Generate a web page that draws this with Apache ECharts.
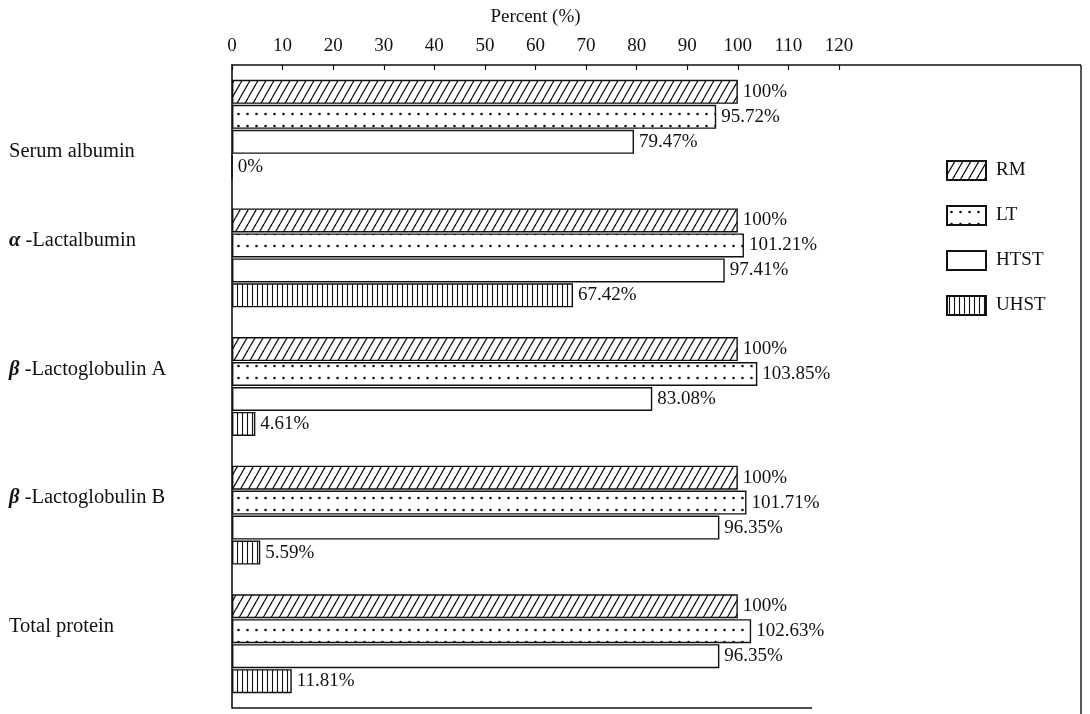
<!DOCTYPE html>
<html>
<head>
<meta charset="utf-8">
<script src="https://cdn.jsdelivr.net/npm/echarts@6/dist/echarts.min.js"></script>
<style>
html,body{margin:0;padding:0;background:#fff;}
#c{width:1090px;height:714px;}
</style>
</head>
<body>
<div id="c"></div>
<script>
// ---- data ----
var categories = ['Serum albumin', 'α-Lactalbumin', 'β-Lactoglobulin A', 'β-Lactoglobulin B', 'Total protein'];
var seriesNames = ['RM', 'LT', 'HTST', 'UHST'];
var rmValues   = [100, 100, 100, 100, 100];
var ltValues   = [95.72, 101.21, 103.85, 101.71, 102.63];
var htstValues = [79.47, 97.41, 83.08, 96.35, 96.35];
var uhstValues = [0, 67.42, 4.61, 5.59, 11.81];
var xTicks = [0, 10, 20, 30, 40, 50, 60, 70, 80, 90, 100, 110, 120];

// ---- patterns ----
function makeCanvas(w, h, draw) {
  var c = document.createElement('canvas');
  c.width = w; c.height = h;
  var ctx = c.getContext('2d');
  ctx.fillStyle = '#fff';
  ctx.fillRect(0, 0, w, h);
  draw(ctx, w, h);
  return c;
}
var hatch = makeCanvas(8, 14, function (ctx, w, h) {
  ctx.strokeStyle = '#111';
  ctx.lineWidth = 1.3;
  for (var k = -1; k <= 1; k++) {
    ctx.beginPath();
    ctx.moveTo(k * w, h);
    ctx.lineTo(k * w + w, 0);
    ctx.stroke();
  }
});
var dots = makeCanvas(9, 12, function (ctx, w, h) {
  ctx.fillStyle = '#111';
  ctx.beginPath();
  ctx.arc(4.5, 6, 1.3, 0, Math.PI * 2);
  ctx.fill();
});
var vlines = makeCanvas(5, 10, function (ctx, w, h) {
  ctx.strokeStyle = '#111';
  ctx.lineWidth = 1.1;
  ctx.beginPath();
  ctx.moveTo(2.5, 0);
  ctx.lineTo(2.5, h);
  ctx.stroke();
});

var FONT = '"Liberation Serif", "DejaVu Serif", serif';
var fills = [
  { image: hatch, repeat: 'repeat' },
  { image: dots, repeat: 'repeat' },
  '#ffffff',
  { image: vlines, repeat: 'repeat' }
];
var valueSets = [rmValues, ltValues, htstValues, uhstValues];

var series = seriesNames.map(function (name, i) {
  return {
    name: name,
    type: 'bar',
    data: valueSets[i],
    barWidth: 24,
    barGap: '4%',
    itemStyle: { color: fills[i], borderColor: '#111', borderWidth: 1.4 },
    label: {
      show: true,
      position: 'right',
      distance: 5,
      color: '#111',
      fontFamily: FONT,
      fontSize: 19,
      formatter: function (p) { return p.value + '%'; }
    },
    emphasis: { disabled: true },
    animation: false
  };
});

var chart = echarts.init(document.getElementById('c'), null, { renderer: 'canvas' });
chart.setOption({
  backgroundColor: '#fff',
  animation: false,
  grid: { left: 232, right: 251, top: 65, bottom: 6, containLabel: false, outerBoundsMode: 'none' },
  legend: {
    orient: 'vertical',
    left: 941,
    top: 155,
    itemWidth: 39,
    itemHeight: 19,
    itemGap: 24,
    icon: 'rect',
    data: seriesNames,
    textStyle: { fontFamily: FONT, fontSize: 19, color: '#111', padding: [0, 0, 0, 5] }
  },
  xAxis: {
    type: 'value',
    position: 'top',
    min: 0,
    max: 120,
    interval: 10,
    name: 'Percent (%)',
    nameLocation: 'middle',
    nameGap: 38,
    nameTextStyle: { fontFamily: FONT, fontSize: 19, color: '#111' },
    axisLine: { show: true, lineStyle: { color: '#111', width: 1.6 } },
    axisTick: { show: true, inside: true, length: 5, lineStyle: { color: '#111', width: 1.2 } },
    axisLabel: {
      margin: 9,
      fontFamily: FONT,
      fontSize: 19,
      color: '#111',
      customValues: xTicks
    },
    splitLine: { show: false }
  },
  yAxis: {
    type: 'category',
    inverse: true,
    data: categories,
    axisLine: { show: true, lineStyle: { color: '#111', width: 1.6 } },
    axisTick: { show: false },
    axisLabel: {
      align: 'left',
      margin: 223,
      color: '#111',
      formatter: function (v, idx) {
        var first = v.charAt(0);
        var greek = (first === 'α' || first === 'β');
        var style = idx === 0 ? 'a' : 'b';
        if (greek) {
          return '{' + style + 'g|' + first + '}{' + style + '| ' + v.slice(1) + '}';
        }
        return '{' + style + '|' + v + '}';
      },
      rich: {
        a: { fontFamily: FONT, fontSize: 20.5, color: '#111', padding: [44, 0, 0, 0] },
        ag: { fontFamily: FONT, fontSize: 20.5, color: '#111', fontStyle: 'italic', fontWeight: 'bold', padding: [44, 0, 0, 0] },
        b: { fontFamily: FONT, fontSize: 20.5, color: '#111', padding: [0, 0, 34, 0] },
        bg: { fontFamily: FONT, fontSize: 20.5, color: '#111', fontStyle: 'italic', fontWeight: 'bold', padding: [0, 0, 34, 0] }
      }
    }
  },
  graphic: [
    { type: 'line', shape: { x1: 839, y1: 65, x2: 1081, y2: 65 }, style: { stroke: '#111', lineWidth: 1.6 }, silent: true },
    { type: 'line', shape: { x1: 1081, y1: 65, x2: 1081, y2: 714 }, style: { stroke: '#111', lineWidth: 1.4 }, silent: true },
    { type: 'line', shape: { x1: 232, y1: 708, x2: 812, y2: 708 }, style: { stroke: '#111', lineWidth: 1.4 }, silent: true }
  ],
  series: series
});
</script>
</body>
</html>
